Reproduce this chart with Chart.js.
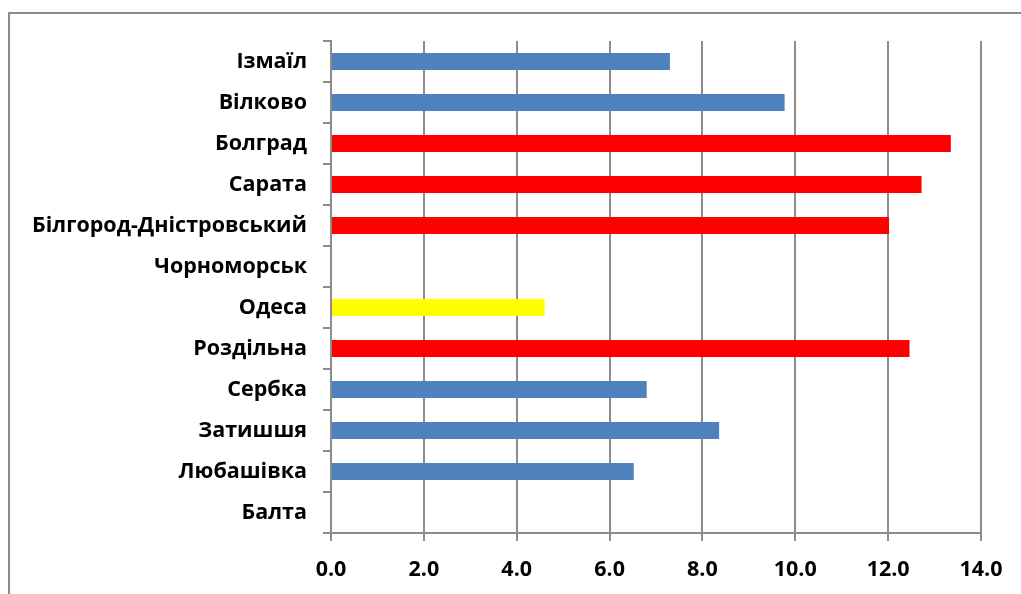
<!DOCTYPE html>
<html>
<head>
<meta charset="utf-8">
<script src="https://cdn.jsdelivr.net/npm/chart.js@4"></script>
<style>
  html, body { margin: 0; padding: 0; background: #fff; }
  #frame {
    position: absolute; left: 8px; top: 12px; width: 1040px; height: 620px;
    border-left: 2px solid #8c8c8c; border-top: 2px solid #8c8c8c;
  }
  #wrap { position: absolute; left: 0; top: 0; width: 1021px; height: 594px; }
</style>
</head>
<body>
<div id="frame"></div>
<div id="wrap"><canvas id="barChart" width="1021" height="594"></canvas></div>
<script>
// categories, top to bottom
const towns = [
  "Ізмаїл", "Вілково", "Болград", "Сарата", "Білгород-Дністровський",
  "Чорноморськ", "Одеса", "Роздільна", "Сербка", "Затишшя", "Любашівка", "Балта"
];
const values = [7.3, 9.77, 13.35, 12.72, 12.02, null, 4.6, 12.46, 6.8, 8.36, 6.52, null];
const barColors = [
  "#4f81bd", "#4f81bd", "#ff0000", "#ff0000", "#ff0000",
  "#4f81bd", "#ffff00", "#ff0000", "#4f81bd", "#4f81bd", "#4f81bd", "#4f81bd"
];
const xTicks = [0, 2, 4, 6, 8, 10, 12, 14];

const axisFont = { family: "'Open Sans', sans-serif", size: 21.5, weight: "bold" };

const ctx = document.getElementById("barChart");

new Chart(ctx, {
  type: "bar",
  data: {
    labels: towns,
    datasets: [{
      data: values,
      backgroundColor: barColors,
      borderWidth: 0,
      barPercentage: 0.41,
      categoryPercentage: 1.0,
    }],
  },
  options: {
    indexAxis: "y",
    responsive: false,
    animation: false,
    layout: { padding: { top: 41, right: 40, bottom: 0, left: 0 } },
    plugins: {
      legend: { display: false },
      tooltip: { enabled: false },
    },
    scales: {
      x: {
        min: 0,
        max: 14,
        afterBuildTicks: (axis) => { axis.ticks = xTicks.map(v => ({ value: v })); },
        afterFit: (axis) => { axis.height = 61; },
        grid: {
          color: "#8c8c8c",
          lineWidth: 2,
          tickLength: 8,
          drawTicks: true,
        },
        border: { color: "#8c8c8c", width: 2 },
        ticks: {
          color: "#000",
          font: axisFont,
          padding: 16,
          callback: (v) => Number(v).toFixed(1),
        },
      },
      y: {
        afterFit: (axis) => { axis.width = 331; },
        grid: {
          offset: true,
          drawOnChartArea: false,
          color: "#8c8c8c",
          lineWidth: 2,
          tickLength: 8,
        },
        border: { color: "#8c8c8c", width: 2 },
        ticks: {
          color: "#000",
          font: axisFont,
          padding: 16,
        },
      },
    },
  },
});
</script>
</body>
</html>
